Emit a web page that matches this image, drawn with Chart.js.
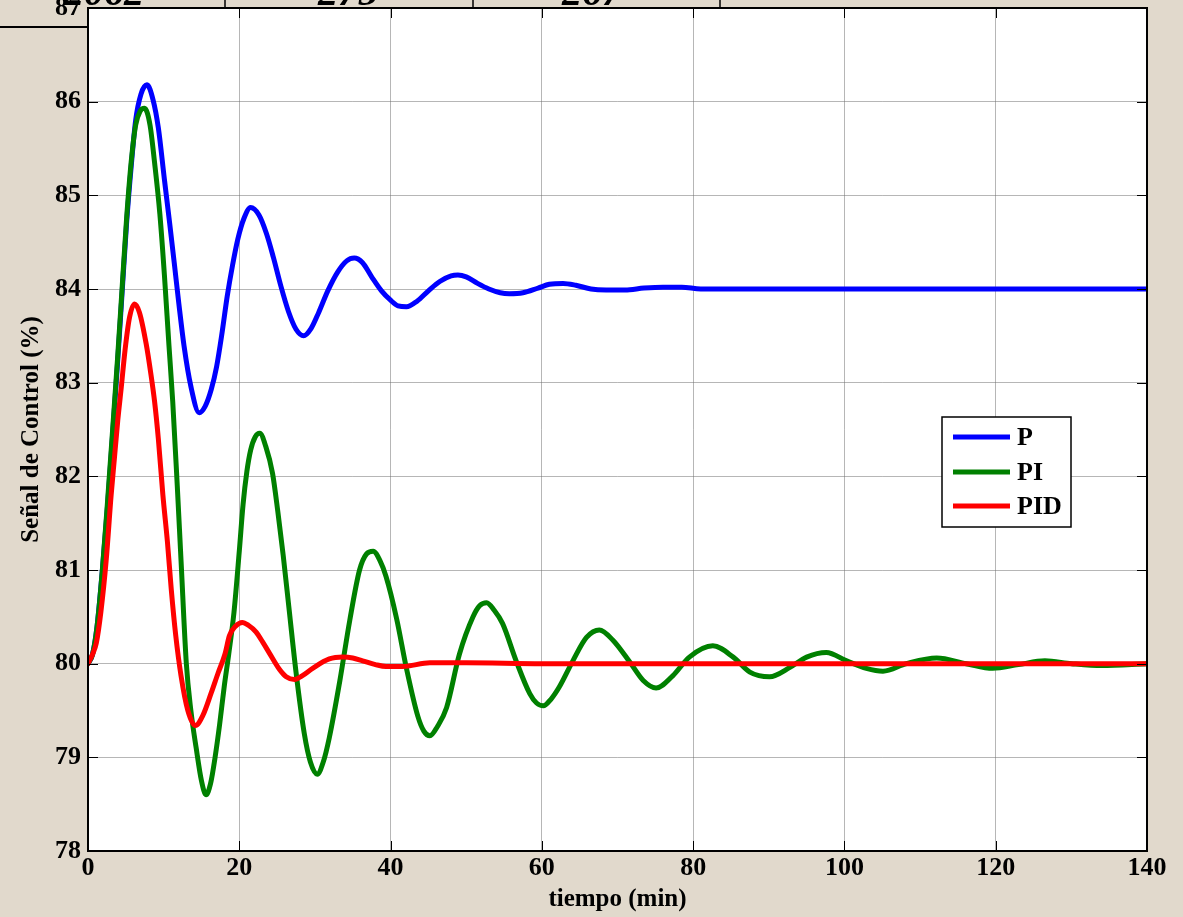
<!DOCTYPE html>
<html>
<head>
<meta charset="utf-8">
<script src="https://cdn.jsdelivr.net/npm/chart.js@4.4.1/dist/chart.umd.min.js"></script>
<style>
  html, body { margin: 0; padding: 0; }
  body { width: 1183px; height: 917px; background: #e1d9cc; overflow: hidden; }
  #wrap { position: absolute; left: 0; top: 0; width: 1183px; height: 917px; }
</style>
</head>
<body>
<div id="wrap"><canvas id="c" width="1183" height="917"></canvas></div>
<script>
// ---- data ----
const seriesNames = ['P', 'PI', 'PID'];
const xTickValues = [0, 20, 40, 60, 80, 100, 120, 140];
const yTickValues = [78, 79, 80, 81, 82, 83, 84, 85, 86, 87];
const topTableLabels = ['2062', '275', '267'];

const tP = [0, 0.6, 1.2, 1.9, 2.6, 3.3, 3.9, 4.5, 5.1, 5.7, 6.3, 7.0, 7.8, 8.6, 9.3, 10.1, 10.8, 11.4, 12.0, 12.7, 13.6, 14.7, 15.5, 16.3, 17.0, 17.7, 18.4, 19.1, 19.8, 20.6, 21.5, 22.6, 23.6, 24.5, 25.5, 26.5, 27.5, 28.5, 29.5, 30.5, 31.7, 33.0, 34.2, 35.2, 36.3, 37.5, 38.8, 40.0, 41.0, 42.1, 43.5, 45.0, 46.5, 48.0, 48.9, 50.0, 51.5, 53.0, 54.5, 55.7, 57.5, 59.5, 61.0, 62.8, 64.5, 66.5, 68.5, 71.0, 73.5, 76.0, 78.5, 81.0, 86.0, 90.0, 97.0, 110.0, 125.0, 140.0];
const yP = [80, 80.1, 80.4, 81.0, 81.7, 82.5, 83.2, 83.95, 84.7, 85.3, 85.8, 86.08, 86.18, 86.02, 85.72, 85.17, 84.7, 84.28, 83.85, 83.39, 82.96, 82.68, 82.75, 82.93, 83.17, 83.52, 83.92, 84.25, 84.53, 84.75, 84.87, 84.79, 84.59, 84.34, 84.03, 83.76, 83.57, 83.5, 83.58, 83.75, 83.98, 84.18, 84.3, 84.33, 84.28, 84.13, 83.98, 83.88, 83.82, 83.81, 83.87, 83.98, 84.08, 84.14, 84.15, 84.13, 84.06, 84.0, 83.96, 83.95, 83.96, 84.01, 84.05, 84.06, 84.04, 84.0, 83.99, 83.99, 84.01, 84.02, 84.02, 84.0, 84.0, 84.0, 84.0, 84.0, 84.0, 84.0];

const tPI = [0, 0.6, 1.2, 1.9, 2.6, 3.3, 3.9, 4.5, 5.1, 5.7, 6.3, 6.9, 7.47, 8.2, 8.8, 9.5, 10.1, 10.7, 11.2, 11.8, 12.3, 13.0, 13.6, 14.3, 15.0, 15.6, 16.2, 16.8, 17.4, 18.0, 18.6, 19.3, 20.0, 20.5, 21.0, 21.5, 22.1, 22.7, 23.5, 24.4, 25.1, 25.8, 26.6, 27.5, 28.6, 29.4, 30.3, 31.1, 31.9, 33.3, 34.6, 35.9, 36.8, 37.7, 38.6, 39.4, 40.8, 42.1, 43.6, 44.4, 45.2, 46.2, 47.4, 49.1, 50.9, 51.8, 52.7, 53.7, 54.8, 56.6, 58.4, 59.3, 60.2, 61.2, 62.3, 64.1, 65.9, 67.6, 69.4, 71.6, 73.4, 75.1, 77.3, 79.5, 82.6, 85.3, 87.5, 90.1, 92.8, 95.0, 97.6, 100.3, 102.9, 105.1, 108.2, 112.2, 116.1, 119.6, 123.0, 126.5, 130.0, 134.0, 140.0];
const yPI = [80, 80.1, 80.4, 81.0, 81.75, 82.55, 83.25, 84.0, 84.75, 85.35, 85.75, 85.9, 85.93, 85.75, 85.35, 84.8, 84.15, 83.4, 82.8, 81.9, 81.1, 80.0, 79.5, 79.1, 78.75, 78.6, 78.72, 79.0, 79.35, 79.75, 80.1, 80.55, 81.2, 81.7, 82.05, 82.28, 82.42, 82.46, 82.32, 82.03, 81.62, 81.16, 80.57, 79.91, 79.25, 78.95, 78.82, 78.95, 79.21, 79.82, 80.46, 81.0, 81.17, 81.2, 81.1, 80.93, 80.48, 79.95, 79.44, 79.28, 79.23, 79.33, 79.53, 80.1, 80.5, 80.62, 80.65, 80.57, 80.43, 80.03, 79.68, 79.58, 79.55, 79.62, 79.75, 80.03, 80.28, 80.36, 80.25, 80.02, 79.82, 79.74, 79.87, 80.07, 80.19, 80.07, 79.91, 79.86, 79.96, 80.07, 80.12, 80.03, 79.95, 79.92, 80.0, 80.06, 80.0, 79.95, 79.99, 80.03, 80.0, 79.98, 80.0];

const tPID = [0, 0.6, 1.1, 1.7, 2.4, 3.06, 3.5, 3.94, 4.4, 4.9, 5.5, 6.15, 6.8, 7.7, 8.3, 8.8, 9.3, 9.9, 10.5, 11.0, 11.6, 12.3, 13.2, 14.2, 15.2, 16.3, 17.2, 18.1, 18.7, 19.5, 20.4, 21.2, 22.2, 23.1, 24.0, 25.3, 26.2, 27.3, 28.3, 29.7, 31.9, 33.7, 35.0, 36.3, 38.0, 39.4, 41.6, 45.2, 50.0, 60.0, 80.0, 100.0, 120.0, 140.0];
const yPID = [80, 80.1, 80.22, 80.55, 81.1, 81.8, 82.2, 82.6, 82.95, 83.35, 83.7, 83.84, 83.75, 83.41, 83.1, 82.8, 82.4, 81.8, 81.3, 80.8, 80.3, 79.87, 79.5, 79.34, 79.45, 79.69, 79.9, 80.1, 80.3, 80.4, 80.44, 80.41, 80.34, 80.23, 80.11, 79.94, 79.86, 79.83, 79.87, 79.95, 80.05, 80.07, 80.06, 80.03, 79.99, 79.97, 79.97, 80.01, 80.01, 80.0, 80.0, 80.0, 80.0, 80.0];

const seriesColors = ['#0000ff', '#008000', '#ff0000'];

function pts(ts, vs) { return ts.map((t, i) => ({ x: t, y: vs[i] })); }

const FONT = '"Liberation Serif", "Times New Roman", serif';

function zeroPad(s) { s.paddingTop = 0; s.paddingBottom = 0; s.paddingLeft = 0; s.paddingRight = 0; }

const framePlugin = {
  id: 'frame',
  beforeDraw(chart) {
    const { ctx, chartArea: a } = chart;
    ctx.save();
    ctx.fillStyle = '#ffffff';
    ctx.fillRect(a.left, a.top, a.right - a.left, a.bottom - a.top);
    ctx.restore();
  },
  afterDraw(chart) {
    const { ctx, chartArea: a, scales } = chart;
    ctx.save();
    // inward ticks
    ctx.strokeStyle = '#000';
    ctx.lineWidth = 1;
    ctx.beginPath();
    xTickValues.forEach(v => {
      const x = Math.round(scales.x.getPixelForValue(v)) + 0.5;
      ctx.moveTo(x, a.bottom); ctx.lineTo(x, a.bottom - 10);
      ctx.moveTo(x, a.top); ctx.lineTo(x, a.top + 10);
    });
    yTickValues.forEach(v => {
      const y = Math.round(scales.y.getPixelForValue(v)) + 0.5;
      ctx.moveTo(a.left, y); ctx.lineTo(a.left + 10, y);
      ctx.moveTo(a.right, y); ctx.lineTo(a.right - 10, y);
    });
    ctx.stroke();
    // box
    ctx.lineWidth = 2;
    ctx.strokeStyle = '#000';
    ctx.strokeRect(a.left, a.top, a.right - a.left, a.bottom - a.top);

    // legend
    const lx = 942, ly = 417, lw = 129, lh = 110;
    ctx.fillStyle = '#fff';
    ctx.fillRect(lx, ly, lw, lh);
    ctx.lineWidth = 1.5;
    ctx.strokeRect(lx, ly, lw, lh);
    const rows = [437, 472, 506];
    ctx.font = 'bold 26px ' + FONT;
    ctx.textBaseline = 'middle';
    ctx.textAlign = 'left';
    seriesNames.forEach((n, i) => {
      ctx.strokeStyle = seriesColors[i];
      ctx.lineWidth = 5;
      ctx.beginPath();
      ctx.moveTo(953, rows[i]); ctx.lineTo(1010, rows[i]);
      ctx.stroke();
      ctx.fillStyle = '#000';
      ctx.fillText(n, 1017, rows[i] + 1);
    });

    // cut-off table row above the figure
    ctx.strokeStyle = '#000';
    ctx.lineWidth = 2;
    ctx.beginPath();
    ctx.moveTo(0, 27); ctx.lineTo(a.left, 27);
    ctx.stroke();
    ctx.lineWidth = 1.5;
    ctx.beginPath();
    [225, 473, 720].forEach(x => { ctx.moveTo(x, 0); ctx.lineTo(x, a.top); });
    ctx.stroke();
    ctx.fillStyle = '#000';
    ctx.font = 'bold italic 40px ' + FONT;
    ctx.textBaseline = 'alphabetic';
    ctx.textAlign = 'center';
    const cx = [104, 348, 592];
    topTableLabels.forEach((t, i) => ctx.fillText(t, cx[i], 5));
    ctx.restore();
  }
};

new Chart(document.getElementById('c'), {
  type: 'line',
  data: {
    datasets: [
      { label: seriesNames[0], data: pts(tP, yP), borderColor: seriesColors[0], order: 3 },
      { label: seriesNames[1], data: pts(tPI, yPI), borderColor: seriesColors[1], order: 2 },
      { label: seriesNames[2], data: pts(tPID, yPID), borderColor: seriesColors[2], order: 1 }
    ].map(d => Object.assign(d, {
      borderWidth: 5, pointRadius: 0, fill: false,
      cubicInterpolationMode: 'monotone', borderCapStyle: 'round', borderJoinStyle: 'round'
    }))
  },
  options: {
    responsive: false,
    animation: false,
    devicePixelRatio: 1,
    layout: { autoPadding: false, padding: { top: 8, right: 36, left: 0, bottom: 0 } },
    plugins: { legend: { display: false }, tooltip: { enabled: false } },
    scales: {
      x: {
        type: 'linear', min: 0, max: 140,
        afterFit(s) { s.height = 66; zeroPad(s); },
        afterBuildTicks(s) { s.ticks = xTickValues.map(v => ({ value: v })); },
        grid: { color: 'rgba(110,110,110,0.5)', lineWidth: 1, drawTicks: false },
        border: { display: false },
        ticks: { color: '#000', padding: 2, maxRotation: 0, font: { family: FONT, size: 26, weight: 'bold' } },
        title: { display: true, text: 'tiempo (min)', color: '#000', padding: { top: 0, bottom: 2 }, font: { family: FONT, size: 25, weight: 'bold' } }
      },
      y: {
        type: 'linear', min: 78, max: 87,
        afterFit(s) { s.width = 88; zeroPad(s); },
        afterBuildTicks(s) { s.ticks = yTickValues.map(v => ({ value: v })); },
        grid: { color: 'rgba(110,110,110,0.5)', lineWidth: 1, drawTicks: false },
        border: { display: false },
        ticks: { color: '#000', padding: 7, font: { family: FONT, size: 26, weight: 'bold' } },
        title: { display: true, text: 'Señal de Control (%)', color: '#000', padding: { top: 17, bottom: 0 }, font: { family: FONT, size: 25, weight: 'bold' } }
      }
    }
  },
  plugins: [framePlugin]
});
</script>
</body>
</html>
